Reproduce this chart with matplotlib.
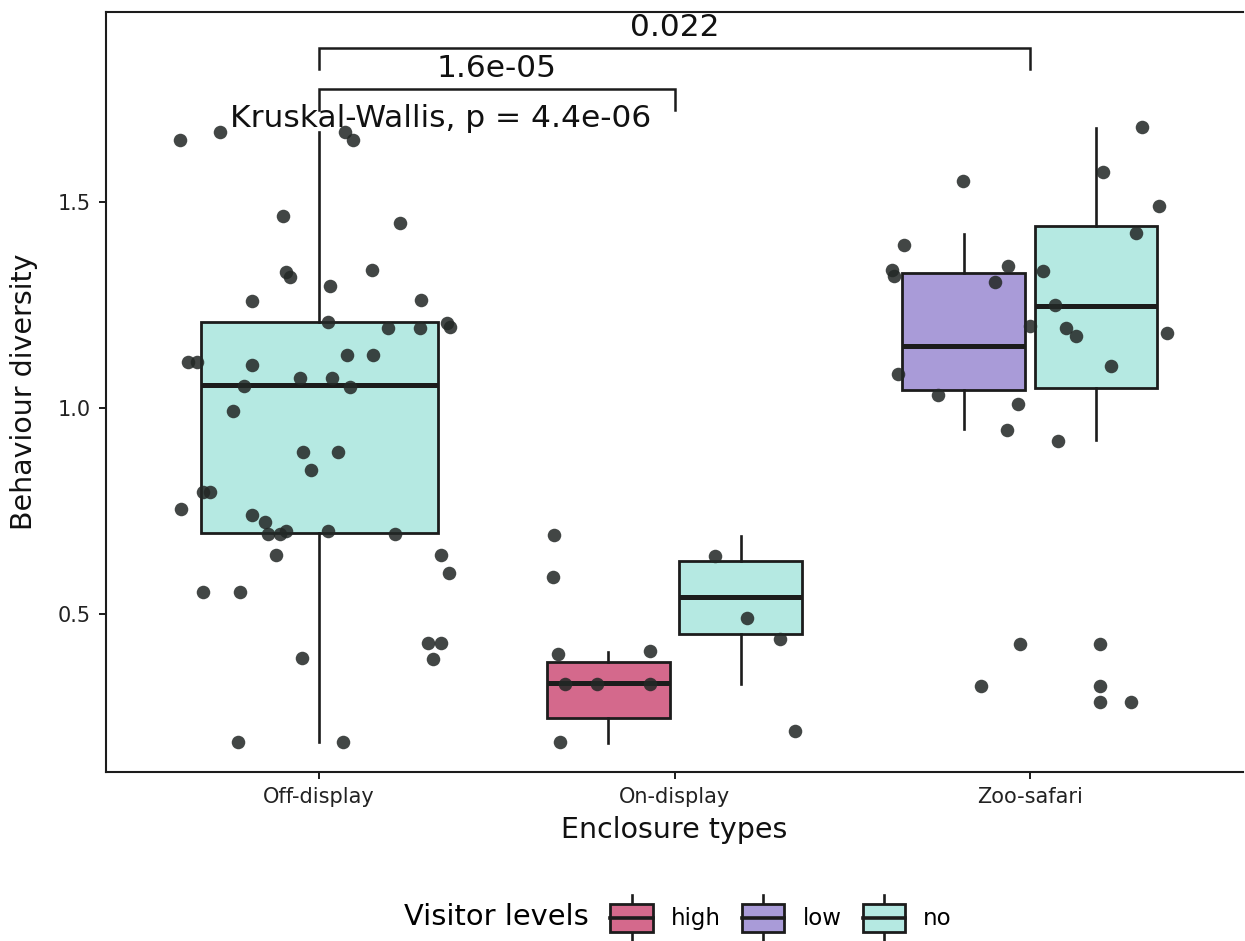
import matplotlib
matplotlib.use("Agg")
import matplotlib.pyplot as plt
from matplotlib.patches import Rectangle, Patch
from matplotlib.lines import Line2D
from matplotlib.legend_handler import HandlerBase

plt.rcParams['font.family'] = ['DejaVu Sans']

# ---------------------------------------------------------------- data
enclosures = ["Off-display", "On-display", "Zoo-safari"]
visitor_levels = ["high", "low", "no"]
level_colors = ["#d4698c", "#a99bd8", "#b5e9e2"]

# one box per (enclosure, visitor level) combination
box_enclosure = ["Off-display", "On-display", "On-display", "Zoo-safari", "Zoo-safari"]
box_level = ["no", "high", "no", "low", "no"]
whisker_low = [0.191, 0.189, 0.332, 0.949, 0.923]
quartile_1 = [0.697, 0.249, 0.453, 1.044, 1.048]
medians = [1.056, 0.334, 0.542, 1.150, 1.247]
quartile_3 = [1.208, 0.385, 0.630, 1.327, 1.441]
whisker_high = [1.668, 0.409, 0.690, 1.421, 1.678]

# individual observations, with their horizontal jitter
off_display_values = [
    1.649, 1.668, 1.668, 1.649, 1.464, 1.448, 1.330, 1.318, 1.335, 1.295,
    1.260, 1.262, 1.209, 1.193, 1.193, 1.205, 1.195, 1.112, 1.112, 1.105,
    1.129, 1.129, 1.072, 1.072, 1.053, 1.050, 0.993, 0.893, 0.893, 0.850,
    0.797, 0.797, 0.756, 0.740, 0.724, 0.696, 0.696, 0.703, 0.701, 0.694,
    0.644, 0.644, 0.600, 0.555, 0.555, 0.395, 0.431, 0.431, 0.392, 0.191,
    0.191]
off_display_jitter = [
    -0.391, -0.278, 0.073, 0.096, -0.101, 0.228, -0.093, -0.082, 0.149, 0.031,
    -0.188, 0.287, 0.025, 0.194, 0.284, 0.360, 0.368, -0.368, -0.343, -0.188,
    0.079, 0.152, -0.053, 0.037, -0.211, 0.087, -0.242, -0.045, 0.053, -0.023,
    -0.326, -0.307, -0.388, -0.188, -0.152, -0.143, -0.110, -0.093, 0.025, 0.214,
    -0.121, 0.343, 0.366, -0.326, -0.222, -0.048, 0.307, 0.343, 0.321, -0.228,
    0.068]

on_display_values = [0.692, 0.591, 0.404, 0.412, 0.332, 0.332, 0.332, 0.191,
                     0.642, 0.492, 0.441, 0.218]
on_display_jitter = [-0.338, -0.343, -0.329, -0.068, -0.309, -0.217, -0.070,
                     -0.323, 0.113, 0.205, 0.298, 0.340]

zoo_safari_values = [
    1.550, 1.395, 1.334, 1.320, 1.344, 1.305, 1.082, 1.031, 1.010, 0.947,
    1.199, 1.571, 1.489, 1.424, 1.332, 1.249, 1.194, 1.174, 1.102, 1.182,
    0.920, 1.680, 0.429, 0.327, 0.429, 0.327, 0.288, 0.288]
zoo_safari_jitter = [
    -0.188, -0.354, -0.388, -0.383, -0.062, -0.098, -0.371, -0.259, -0.034, -0.065,
    0.000, 0.205, 0.363, 0.298, 0.037, 0.070, 0.101, 0.129, 0.228, 0.385,
    0.079, 0.315, -0.028, -0.138, 0.197, 0.197, 0.197, 0.284]

# pairwise Wilcoxon comparisons and global test
comparison_pairs = [("Off-display", "Zoo-safari"), ("Off-display", "On-display")]
comparison_labels = ["0.022", "1.6e-05"]
kruskal_label = "Kruskal-Wallis, p = 4.4e-06"

# ---------------------------------------------------------------- figure
EDGE = "#1c1c1c"
fig = plt.figure(figsize=(12.45, 9.41), dpi=100)
ax = fig.add_axes([106 / 1245, 1 - 772 / 941, 1137 / 1245, 760 / 941])

xpos = {name: i + 1 for i, name in enumerate(enclosures)}
color_of = dict(zip(visitor_levels, level_colors))

# dodge boxes that share an enclosure
stats, positions, widths, fills = [], [], [], []
for i, (enc, lvl) in enumerate(zip(box_enclosure, box_level)):
    siblings = [l for e, l in zip(box_enclosure, box_level) if e == enc]
    n = len(siblings)
    k = siblings.index(lvl)
    if n == 1:
        offset, w = 0.0, 0.667
    else:
        offset, w = (-0.186 if k == 0 else 0.186), 0.345
    positions.append(xpos[enc] + offset)
    widths.append(w)
    fills.append(color_of[lvl])
    stats.append(dict(whislo=whisker_low[i], q1=quartile_1[i], med=medians[i],
                      q3=quartile_3[i], whishi=whisker_high[i], fliers=[]))

bp = ax.bxp(stats, positions=positions, widths=widths, patch_artist=True,
            showfliers=False, showcaps=False,
            boxprops=dict(edgecolor=EDGE, linewidth=2.0),
            whiskerprops=dict(color=EDGE, linewidth=1.9),
            medianprops=dict(color=EDGE, linewidth=3.6, solid_capstyle="butt"),
            zorder=2)
for patch, fc in zip(bp["boxes"], fills):
    patch.set_facecolor(fc)

# jittered observations
for enc, vals, jit in [("Off-display", off_display_values, off_display_jitter),
                       ("On-display", on_display_values, on_display_jitter),
                       ("Zoo-safari", zoo_safari_values, zoo_safari_jitter)]:
    ax.scatter([xpos[enc] + j for j in jit], vals, s=95, color="#232826",
               alpha=0.86, linewidths=0, zorder=3)

# comparison brackets
bracket_y = [1.872, 1.772]
tick_drop = 0.05
for (a, b), lab, yb in zip(comparison_pairs, comparison_labels, bracket_y):
    x1, x2 = xpos[a], xpos[b]
    ax.plot([x1, x1, x2, x2], [yb - tick_drop, yb, yb, yb - tick_drop],
            color=EDGE, lw=1.8, solid_joinstyle="miter", zorder=4)
    ax.text((x1 + x2) / 2, yb + 0.014, lab, ha="center", va="bottom",
            fontsize=22.5, color="#111111")

ax.text(0.75, 1.680, kruskal_label, ha="left", va="baseline",
        fontsize=22.5, color="#111111", zorder=5)

# axes styling
ax.set_xlim(0.4, 3.6)
ax.set_ylim(0.1186, 1.959)
ax.set_xticks([xpos[e] for e in enclosures])
ax.set_xticklabels(enclosures)
ax.set_yticks([0.5, 1.0, 1.5])
ax.set_yticklabels(["0.5", "1.0", "1.5"])
ax.tick_params(axis="both", length=5, width=1.4, color=EDGE, labelsize=15,
               labelcolor="#222222", pad=6)
for side in ["left", "bottom", "top"]:
    ax.spines[side].set_linewidth(1.5)
    ax.spines[side].set_color(EDGE)
ax.spines["right"].set_visible(False)
ax.set_xlabel("Enclosure types", fontsize=20.5, labelpad=6, color="#111111")
ax.set_ylabel("Behaviour diversity", fontsize=20.5, labelpad=14, color="#111111")


# legend keys drawn as small boxplots
class BoxKey(HandlerBase):
    def create_artists(self, legend, orig_handle, xdescent, ydescent,
                       width, height, fontsize, trans):
        x0, y0 = -xdescent, -ydescent
        bh = height * 0.6
        by = y0 + (height - bh) / 2
        cx = x0 + width / 2
        rect = Rectangle((x0, by), width, bh, facecolor=orig_handle.get_facecolor(),
                         edgecolor=EDGE, linewidth=2.0, transform=trans)
        med = Line2D([x0, x0 + width], [by + bh / 2] * 2, color=EDGE, lw=2.6,
                     transform=trans)
        up = Line2D([cx, cx], [by + bh, y0 + height], color=EDGE, lw=1.9,
                    transform=trans)
        dn = Line2D([cx, cx], [y0, by], color=EDGE, lw=1.9, transform=trans)
        return [up, dn, rect, med]


title_handle = Line2D([], [], alpha=0)
key_handles = [Patch(facecolor=c) for c in level_colors]
leg = fig.legend([title_handle] + key_handles, ["Visitor levels"] + visitor_levels,
                 handler_map={Patch: BoxKey()}, ncol=4, frameon=False,
                 loc="center left", bbox_to_anchor=(344 / 1245, 1 - 918 / 941),
                 fontsize=16.5, handlelength=1.85, handleheight=2.65,
                 handletextpad=0.79, columnspacing=0.92, borderpad=0,
                 borderaxespad=0)
leg.get_texts()[0].set_fontsize(20.8)

fig.savefig("out.png", dpi=100, facecolor="white")
